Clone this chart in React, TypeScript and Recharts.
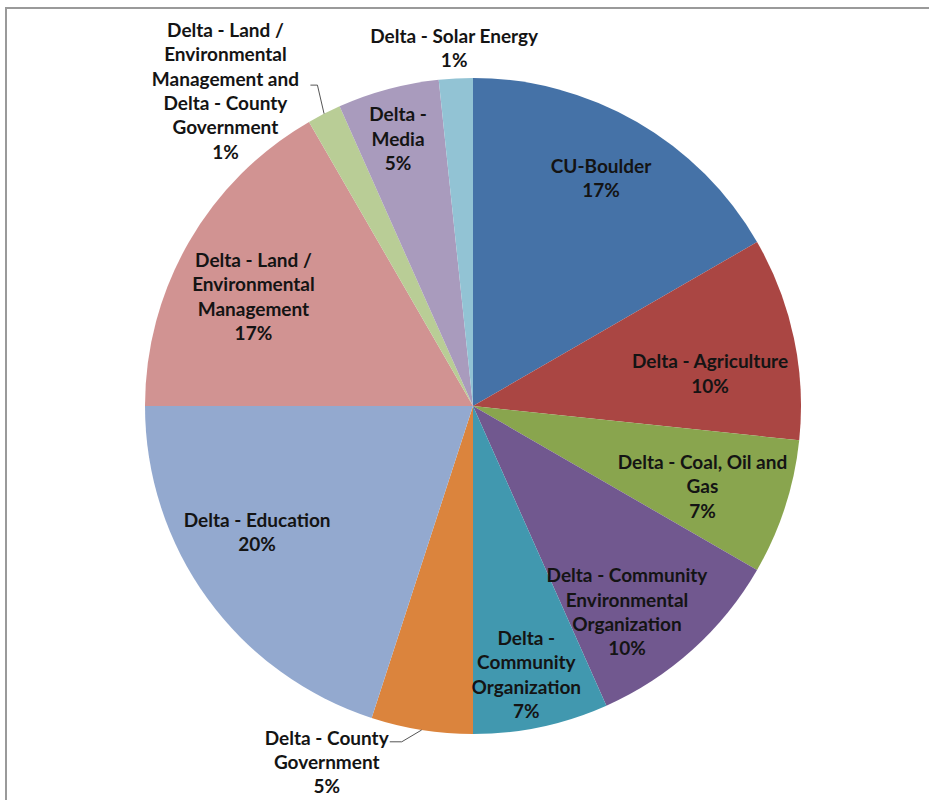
import { PieChart, Pie, Cell } from "recharts";

// counts per group (angles), printed labels as shown
const names = [
  "CU-Boulder",
  "Delta - Agriculture",
  "Delta - Coal, Oil and\nGas",
  "Delta - Community\nEnvironmental\nOrganization",
  "Delta -\nCommunity\nOrganization",
  "Delta - County\nGovernment",
  "Delta - Education",
  "Delta - Land /\nEnvironmental\nManagement",
  "Delta - Land /\nEnvironmental\nManagement and\nDelta - County\nGovernment",
  "Delta -\nMedia",
  "Delta - Solar Energy",
];
const counts = [10, 6, 4, 6, 4, 3, 12, 10, 1, 3, 1];
const percentLabels = ["17%", "10%", "7%", "10%", "7%", "5%", "20%", "17%", "1%", "5%", "1%"];
const colors = [
  "#4572A7",
  "#AA4643",
  "#89A54E",
  "#71588F",
  "#4198AF",
  "#DB843D",
  "#93A9CF",
  "#D19392",
  "#B9CD96",
  "#A99BBD",
  "#92C3D4",
];

const RAD = Math.PI / 180;

// label placement: shift = clockwise nudge off the slice middle (deg), rf = radius factor,
// leader = elbow / end of the leader line relative to the label centre
const placement: { shift: number; rf: number; leader?: [number, number, number, number] }[] = [
  { shift: -0.8, rf: 0.8 },
  { shift: 3.9, rf: 0.73 },
  { shift: 1, rf: 0.74 },
  { shift: 5, rf: 0.78 },
  { shift: 0.7, rf: 0.83 },
  { shift: 13.4, rf: 1.17, leader: [75, -19, 63, -19] },
  { shift: 6, rf: 0.76 },
  { shift: -3.2, rf: 0.75 },
  { shift: -11, rf: 1.226, leader: [92, -4, 85, -4] },
  { shift: -0.6, rf: 0.85 },
  { shift: 0, rf: 1.097 },
];

function renderLabel(props: any) {
  const { cx, cy, midAngle, outerRadius, index } = props;
  const p = placement[index];
  const ang = midAngle - p.shift;
  const r = outerRadius * p.rf;
  const x = cx + r * Math.cos(-ang * RAD);
  const y = cy + r * Math.sin(-ang * RAD);
  const lines = [...names[index].split("\n"), percentLabels[index]];
  const y0 = y - (lines.length - 1) * 12;

  let leader = null;
  if (p.leader) {
    const sx = cx + outerRadius * Math.cos(-midAngle * RAD);
    const sy = cy + outerRadius * Math.sin(-midAngle * RAD);
    const [ex, ey, tx, ty] = p.leader;
    leader = (
      <polyline
        points={`${sx},${sy} ${x + ex},${y + ey} ${x + tx},${y + ty}`}
        fill="none"
        stroke="#555"
        strokeWidth={1}
      />
    );
  }

  return (
    <g key={`lbl-${index}`}>
      {leader}
      <text
        x={x}
        y={y0}
        textAnchor="middle"
        dominantBaseline="central"
        fill="#141414"
        fontFamily="Lato, 'Open Sans', sans-serif"
        fontWeight={700}
        fontSize={19}
      >
        {lines.map((line, i) => (
          <tspan key={i} x={x} y={y0 + i * 24.3}>
            {line}
          </tspan>
        ))}
      </text>
    </g>
  );
}

export default function App() {
  const data = names.map((name, i) => ({ name, value: counts[i] }));

  return (
    <div
      style={{
        position: "fixed",
        left: 0,
        top: 0,
        width: 929,
        height: 800,
        overflow: "hidden",
        background: "#fff",
      }}
    >
      {/* chart frame: only top and left edges are in view */}
      <div
        style={{
          position: "absolute",
          left: 5,
          top: 7,
          width: 960,
          height: 840,
          borderTop: "2px solid #9a9a9a",
          borderLeft: "2px solid #9a9a9a",
        }}
      />
      <div style={{ position: "absolute", left: 0, top: 0 }}>
        <PieChart width={929} height={800} margin={{ top: 0, right: 0, bottom: 0, left: 0 }}>
          <Pie
            data={data}
            dataKey="value"
            nameKey="name"
            cx={473}
            cy={406}
            outerRadius={328}
            startAngle={90}
            endAngle={-270}
            stroke="none"
            label={renderLabel}
            labelLine={false}
            isAnimationActive={false}
          >
            {data.map((_, i) => (
              <Cell key={`c-${i}`} fill={colors[i]} />
            ))}
          </Pie>
        </PieChart>
      </div>
    </div>
  );
}
